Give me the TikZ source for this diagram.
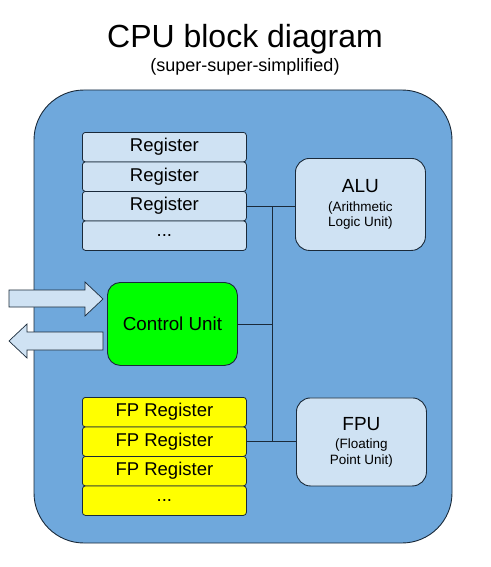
\documentclass[tikz,border=0pt]{standalone}
\usepackage{fontspec}
\setmainfont{Liberation Sans}
\definecolor{cpublue}{HTML}{6FA8DC}
\definecolor{lightblue}{HTML}{CFE2F3}
\definecolor{edge}{HTML}{1A2A3A}
\definecolor{cugreen}{HTML}{00FF00}
\definecolor{fpyellow}{HTML}{FFFF00}
\tikzset{
  regbox/.style={draw=edge, line width=0.8pt, rounded corners=3pt, minimum width=164pt, minimum height=29.5pt, inner sep=0pt, font=\fontsize{18.5}{20}\selectfont, anchor=north west},
  unitbox/.style={draw=edge, line width=0.9pt, fill=lightblue, rounded corners=14pt, minimum width=130pt, inner sep=0pt, align=center, anchor=north west, font=\fontsize{13.5}{15.5}\selectfont},
  bus/.style={draw=edge, line width=0.9pt},
  io/.style={draw=edge, line width=0.7pt, fill=lightblue}
}
\begin{document}
\begin{tikzpicture}[x=1pt,y=-1pt]
\useasboundingbox (0,0) rectangle (490,567);
\node (title) at (245,39) {\fontsize{32}{34}\selectfont CPU block diagram};
\node (subtitle) at (245,67) {\fontsize{18}{20}\selectfont (super-super-simplified)};
\draw[draw=edge, line width=0.9pt, fill=cpublue, rounded corners=50pt] (34,90) rectangle (452,543);
% registers
\node[regbox, fill=lightblue] (reg1) at (82,132) {Register};
\node[regbox, fill=lightblue] (reg2) at (82,161.5) {Register};
\node[regbox, fill=lightblue] (reg3) at (82,191) {Register};
\node[regbox, fill=lightblue] (reg4) at (82,220.5) {...};
% FP registers
\node[regbox, fill=fpyellow] (fpr1) at (82,397) {FP Register};
\node[regbox, fill=fpyellow] (fpr2) at (82,426.5) {FP Register};
\node[regbox, fill=fpyellow] (fpr3) at (82,456) {FP Register};
\node[regbox, fill=fpyellow] (fpr4) at (82,485.5) {...};
% ALU, FPU
\node[unitbox, minimum height=92pt] (alu) at (295,158) {{\fontsize{19}{22}\selectfont ALU}\\[3pt](Arithmetic\\Logic Unit)};
\node[unitbox, minimum height=88pt] (fpu) at (296,397.5) {{\fontsize{19}{22}\selectfont FPU}\\[3pt](Floating\\Point Unit)};
% Control unit
\node[draw=edge, line width=0.9pt, fill=cugreen, rounded corners=13pt, minimum width=130pt, minimum height=83pt, inner sep=0pt, anchor=north west, font=\fontsize{18.8}{20}\selectfont] (cu) at (107,282) {Control Unit};
% bus
\coordinate (busx) at (272,0);
\draw[bus] (reg3.east) -- (reg3.east -| alu.west);
\draw[bus] (reg3.east -| busx) -- (fpr2.east -| busx);
\draw[bus] (cu.east) -- (cu.east -| busx);
\draw[bus] (fpr2.east) -- (fpr2.east -| fpu.west);
% I/O arrows
\draw[io] (9,290) -- (85,290) -- (85,282) -- (103,299) -- (85,316) -- (85,307) -- (9,307) -- cycle;
\draw[io] (103,332) -- (27,332) -- (27,324) -- (9,341) -- (27,358) -- (27,350) -- (103,350) -- cycle;
\end{tikzpicture}
\end{document}
